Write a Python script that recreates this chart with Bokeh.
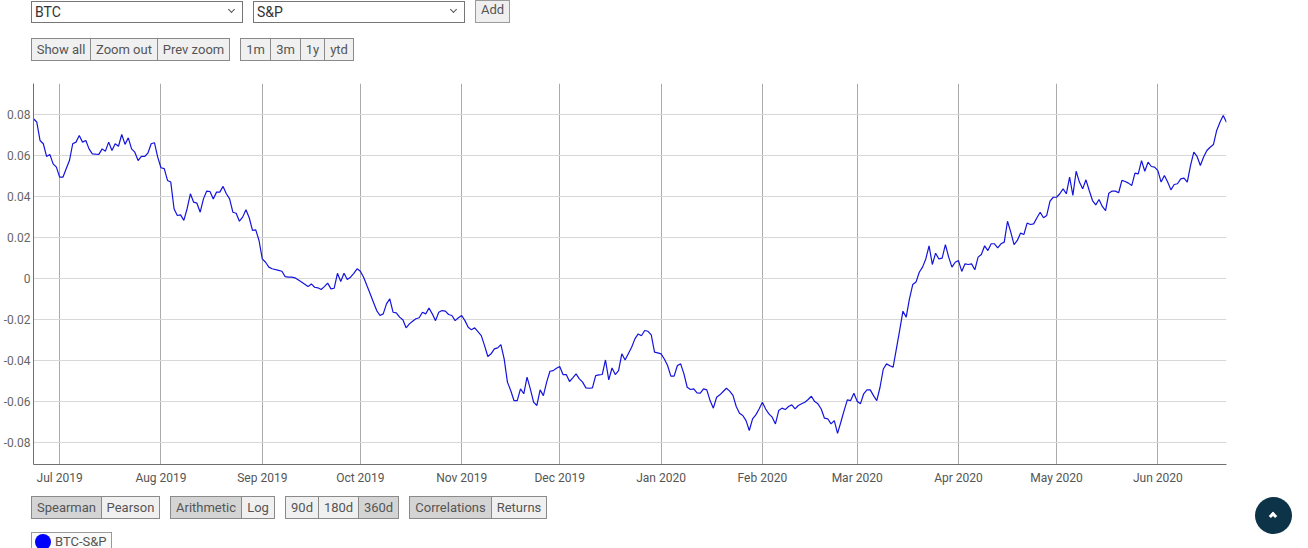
import pandas as pd
from bokeh.plotting import figure
from bokeh.models import Range1d, FixedTicker, Div, ColumnDataSource, DatetimeTickFormatter
from bokeh.layouts import column
from bokeh.embed import file_html
from bokeh.resources import INLINE

# ---------------- data ----------------
start_date = "2019-06-23"
end_date = "2020-06-22"
series_name = "BTC-S&P"

day_offsets = [
    0, 1, 2, 3, 4, 5, 6, 7, 8, 9, 10, 11, 12, 13, 14, 15, 16, 17, 18, 19,
    20, 21, 22, 23, 24, 25, 26, 27, 28, 29, 30, 31, 32, 33, 34, 35, 36, 37, 38, 39,
    40, 41, 42, 43, 44, 45, 46, 47, 48, 49, 50, 51, 52, 53, 54, 55, 56, 57, 58, 59,
    60, 61, 62, 63, 64, 65, 66, 67, 68, 69, 70, 71, 72, 73, 75, 76, 77, 78, 79, 80,
    82, 84, 85, 86, 87, 88, 89, 90, 91, 92, 93, 94, 95, 96, 97, 98, 99, 100, 101, 102,
    103, 104, 105, 106, 107, 108, 109, 110, 111, 112, 113, 114, 115, 116, 117, 118, 119, 120, 121, 122,
    123, 124, 125, 126, 127, 128, 129, 130, 131, 132, 133, 134, 135, 137, 138, 139, 140, 141, 142, 143,
    144, 145, 146, 147, 148, 149, 150, 151, 152, 153, 154, 155, 156, 157, 158, 159, 160, 161, 162, 163,
    164, 165, 166, 167, 168, 169, 170, 171, 172, 173, 174, 175, 176, 177, 178, 179, 180, 181, 183, 184,
    185, 186, 187, 188, 189, 190, 191, 192, 193, 194, 195, 196, 197, 198, 199, 200, 201, 202, 203, 204,
    205, 206, 207, 208, 209, 210, 211, 212, 213, 214, 215, 216, 217, 218, 219, 220, 221, 222, 223, 224,
    225, 226, 227, 228, 229, 230, 231, 232, 233, 234, 235, 236, 237, 238, 239, 240, 241, 242, 243, 244,
    245, 246, 247, 248, 249, 250, 251, 252, 253, 254, 255, 256, 257, 258, 259, 260, 261, 262, 263, 264,
    265, 266, 267, 268, 269, 270, 271, 272, 273, 274, 275, 276, 277, 278, 279, 280, 281, 282, 283, 284,
    285, 286, 287, 288, 289, 290, 291, 292, 293, 294, 295, 296, 297, 298, 299, 300, 301, 302, 303, 304,
    305, 306, 307, 308, 309, 310, 311, 312, 313, 314, 315, 316, 317, 318, 319, 320, 321, 322, 323, 324,
    325, 326, 327, 328, 329, 330, 331, 332, 333, 334, 335, 336, 337, 338, 339, 340, 341, 342, 343, 344,
    345, 346, 347, 348, 349, 350, 351, 352, 353, 354, 355, 356, 357, 358, 359, 360, 361, 362, 363, 364,
    365,
]

corr_values = [
    0.0781, 0.0765, 0.0675, 0.0659, 0.0597, 0.0607, 0.0561, 0.0545, 0.0496, 0.0496,
    0.0537, 0.0577, 0.0659, 0.0667, 0.0699, 0.0667, 0.0675, 0.0634, 0.0610, 0.0608,
    0.0607, 0.0634, 0.0623, 0.0667, 0.0626, 0.0659, 0.0647, 0.0704, 0.0656, 0.0688,
    0.0634, 0.0618, 0.0577, 0.0597, 0.0597, 0.0613, 0.0659, 0.0664, 0.0594, 0.0542,
    0.0538, 0.0480, 0.0472, 0.0342, 0.0309, 0.0312, 0.0285, 0.0342, 0.0415, 0.0374,
    0.0369, 0.0325, 0.0390, 0.0428, 0.0426, 0.0390, 0.0423, 0.0423, 0.0451, 0.0415,
    0.0390, 0.0325, 0.0320, 0.0281, 0.0301, 0.0337, 0.0298, 0.0236, 0.0239, 0.0187,
    0.0097, 0.0081, 0.0057, 0.0049, 0.0041, 0.0037, 0.0011, 0.0008, 0.0008, 0.0005,
    -0.0016, -0.0038, -0.0025, -0.0041, -0.0044, -0.0052, -0.0038, -0.0021, -0.0049, -0.0046,
    0.0027, -0.0013, 0.0027, -0.0003, 0.0008, 0.0027, 0.0049, 0.0037, 0.0008, -0.0033,
    -0.0073, -0.0114, -0.0155, -0.0179, -0.0171, -0.0122, -0.0098, -0.0163, -0.0166, -0.0187,
    -0.0200, -0.0239, -0.0220, -0.0207, -0.0195, -0.0190, -0.0163, -0.0171, -0.0142, -0.0171,
    -0.0204, -0.0163, -0.0155, -0.0158, -0.0174, -0.0179, -0.0204, -0.0190, -0.0179, -0.0204,
    -0.0236, -0.0249, -0.0239, -0.0277, -0.0326, -0.0379, -0.0366, -0.0342, -0.0337, -0.0321,
    -0.0391, -0.0504, -0.0545, -0.0594, -0.0594, -0.0537, -0.0561, -0.0480, -0.0537, -0.0602,
    -0.0618, -0.0542, -0.0570, -0.0504, -0.0451, -0.0448, -0.0436, -0.0428, -0.0467, -0.0467,
    -0.0501, -0.0483, -0.0464, -0.0488, -0.0504, -0.0532, -0.0534, -0.0532, -0.0472, -0.0469,
    -0.0467, -0.0396, -0.0493, -0.0435, -0.0467, -0.0448, -0.0366, -0.0396, -0.0334, -0.0293,
    -0.0269, -0.0278, -0.0252, -0.0256, -0.0274, -0.0358, -0.0361, -0.0366, -0.0391, -0.0423,
    -0.0475, -0.0475, -0.0423, -0.0415, -0.0464, -0.0529, -0.0540, -0.0537, -0.0557, -0.0558,
    -0.0537, -0.0542, -0.0594, -0.0631, -0.0578, -0.0566, -0.0550, -0.0534, -0.0548, -0.0569,
    -0.0623, -0.0656, -0.0667, -0.0692, -0.0740, -0.0683, -0.0664, -0.0635, -0.0602, -0.0635,
    -0.0659, -0.0675, -0.0708, -0.0643, -0.0631, -0.0638, -0.0623, -0.0615, -0.0635, -0.0618,
    -0.0610, -0.0602, -0.0589, -0.0573, -0.0599, -0.0610, -0.0635, -0.0680, -0.0683, -0.0708,
    -0.0692, -0.0754, -0.0700, -0.0643, -0.0591, -0.0594, -0.0558, -0.0597, -0.0610, -0.0561,
    -0.0542, -0.0542, -0.0570, -0.0594, -0.0529, -0.0440, -0.0415, -0.0424, -0.0431, -0.0342,
    -0.0252, -0.0158, -0.0187, -0.0098, -0.0028, -0.0016, 0.0032, 0.0057, 0.0097, 0.0161,
    0.0070, 0.0125, 0.0097, 0.0101, 0.0167, 0.0106, 0.0057, 0.0081, 0.0089, 0.0036,
    0.0073, 0.0070, 0.0073, 0.0044, 0.0106, 0.0119, 0.0161, 0.0138, 0.0171, 0.0171,
    0.0151, 0.0171, 0.0179, 0.0281, 0.0228, 0.0167, 0.0187, 0.0223, 0.0216, 0.0272,
    0.0265, 0.0268, 0.0298, 0.0325, 0.0298, 0.0309, 0.0379, 0.0398, 0.0398, 0.0415,
    0.0439, 0.0415, 0.0496, 0.0407, 0.0525, 0.0472, 0.0439, 0.0483, 0.0431, 0.0382,
    0.0361, 0.0387, 0.0353, 0.0333, 0.0418, 0.0428, 0.0428, 0.0420, 0.0480, 0.0475,
    0.0467, 0.0455, 0.0516, 0.0512, 0.0577, 0.0525, 0.0569, 0.0548, 0.0545, 0.0528,
    0.0472, 0.0504, 0.0472, 0.0434, 0.0460, 0.0464, 0.0488, 0.0491, 0.0472, 0.0553,
    0.0618, 0.0597, 0.0553, 0.0594, 0.0626, 0.0642, 0.0655, 0.0724, 0.0764, 0.0797,
    0.0764,
]

month_ticks = ["2019-07-01", "2019-08-01", "2019-09-01", "2019-10-01", "2019-11-01", "2019-12-01",
               "2020-01-01", "2020-02-01", "2020-03-01", "2020-04-01", "2020-05-01", "2020-06-01"]
month_labels = ["Jul 2019", "Aug 2019", "Sep 2019", "Oct 2019", "Nov 2019", "Dec 2019",
                "Jan 2020", "Feb 2020", "Mar 2020", "Apr 2020", "May 2020", "Jun 2020"]
y_ticks = [-0.08, -0.06, -0.04, -0.02, 0, 0.02, 0.04, 0.06, 0.08]
y_labels = ["-0.08", "-0.06", "-0.04", "-0.02", "0", "0.02", "0.04", "0.06", "0.08"]

pair_options = ["BTC", "S&P"]
top_group_a = ["Show all", "Zoom out", "Prev zoom"]
top_group_b = ["1m", "3m", "1y", "ytd"]
bottom_groups = [["Spearman", "Pearson"], ["Arithmetic", "Log"], ["90d", "180d", "360d"], ["Correlations", "Returns"]]
bottom_active = ["Spearman", "Arithmetic", "360d", "Correlations"]

# ---------------- chart ----------------
FONT = "Roboto"
W = 1308

dates = pd.Timestamp(start_date) + pd.to_timedelta(day_offsets, unit="D")
src = ColumnDataSource(dict(date=dates, corr=corr_values))

p = figure(width=W, height=420, x_axis_type="datetime",
           x_range=Range1d(pd.Timestamp(start_date), pd.Timestamp(end_date)),
           y_range=Range1d(-0.0906, 0.0953),
           output_backend="svg", toolbar_location=None, margin=(0, 0, 0, 0),
           min_border_left=32, min_border_right=82, min_border_top=13, min_border_bottom=26)
p.line("date", "corr", source=src, color="#1414dc", line_width=1.2)

tick_ms = [int(pd.Timestamp(t).value // 10**6) for t in month_ticks]
p.xaxis.ticker = FixedTicker(ticks=tick_ms)
p.xaxis.formatter = DatetimeTickFormatter(months="%b %Y", days="%b %Y")
p.xaxis.major_label_overrides = {ms: lab for ms, lab in zip(tick_ms, month_labels)}
p.yaxis.ticker = FixedTicker(ticks=y_ticks)
p.yaxis.major_label_overrides = {v: lab for v, lab in zip(y_ticks, y_labels)}

for ax in (p.xaxis[0], p.yaxis[0]):
    ax.axis_line_color = "#707070"
    ax.axis_line_width = 1
    ax.major_tick_line_color = None
    ax.minor_tick_line_color = None
    ax.major_tick_out = 0
    ax.major_tick_in = 0
    ax.minor_tick_out = 0
    ax.minor_tick_in = 0
    ax.major_label_text_font = FONT
    ax.major_label_text_font_size = "12px"
p.xaxis.major_label_text_color = "#555555"
p.yaxis.major_label_text_color = "#666666"
p.xaxis.major_label_standoff = 6
p.yaxis.major_label_standoff = 3

p.xgrid.grid_line_color = "#ababab"
p.ygrid.grid_line_color = "#d8d8d8"
p.outline_line_color = None
p.background_fill_color = "white"
p.border_fill_color = "white"

# ---------------- HTML controls ----------------
def seg_html(label, left, right, top, height, active=False, fs=13):
    bg = "#d4d4d4" if active else "#f0f0f0"
    return (f'<div style="position:absolute;left:{left}px;top:{top}px;width:{right - left + 1}px;'
            f'height:{height}px;box-sizing:border-box;background:{bg};border:1px solid #8a8a8a;'
            f'font-family:{FONT};font-size:{fs}px;color:#555;text-align:center;'
            f'line-height:{height - 2}px;white-space:nowrap;">{label}</div>')


def group_html(labels, edges, top, height=23, active=()):
    return "".join(seg_html(l, edges[i], edges[i + 1], top, height, l in active)
                   for i, l in enumerate(labels))


def select_html(label, left, width, top, height):
    chevron = ('<span style="position:absolute;right:8px;top:5px;width:5px;height:5px;'
               'border-right:1.6px solid #555;border-bottom:1.6px solid #555;transform:rotate(45deg);"></span>')
    return (f'<div style="position:absolute;left:{left}px;top:{top}px;width:{width}px;height:{height}px;'
            f'box-sizing:border-box;background:#fff;border:1px solid #767676;font-family:{FONT};'
            f'font-size:14px;color:#333;line-height:{height - 2}px;padding-left:3px;">{label}{chevron}</div>')


top_html = (
    f'<div style="position:relative;width:{W}px;height:70px;background:#fff;">'
    + select_html(pair_options[0], 31, 212, 1, 22)
    + select_html(pair_options[1], 253, 212, 1, 22)
    + '<div style="position:absolute;left:475px;top:0px;width:35px;height:23px;box-sizing:border-box;'
      f'background:#efefef;border:1px solid #9a9a9a;font-family:{FONT};font-size:13px;color:#555;'
      'text-align:center;line-height:17px;">Add</div>'
    + group_html(top_group_a, [31, 90, 157, 229], 38)
    + group_html(top_group_b, [240, 270, 300, 324, 353], 38)
    + '</div>'
)

bottom_edges = [[31, 101, 159], [170, 241, 274], [285, 318, 358, 398], [409, 491, 546]]
bottom_inner = "".join(group_html(g, e, 6, 23, bottom_active) for g, e in zip(bottom_groups, bottom_edges))
legend_html = (
    '<div style="position:absolute;left:31px;top:42px;width:81px;height:22px;box-sizing:border-box;'
    'background:#fafafa;border:1px solid #9a9a9a;">'
    '<span style="position:absolute;left:3px;top:1px;width:16px;height:16px;border-radius:50%;'
    'background:#0000ff;"></span>'
    f'<span style="position:absolute;left:23px;top:1px;font-family:{FONT};font-size:13px;color:#555;'
    f'line-height:16px;">{series_name}</span></div>'
)
scroll_html = (
    '<div style="position:absolute;left:1255px;top:7px;width:37px;height:37px;border-radius:50%;'
    'background:#0d3349;">'
    '<span style="position:absolute;left:15px;top:16px;width:6px;height:6px;border-left:3px solid #fff;'
    'border-top:3px solid #fff;transform:rotate(45deg);"></span></div>'
)
bottom_html = (
    f'<div style="position:relative;width:{W}px;height:58px;overflow:hidden;background:#fff;">'
    + bottom_inner + legend_html + scroll_html + '</div>'
)

top_div = Div(text=top_html, width=W, height=70, margin=(0, 0, 0, 0))
bottom_div = Div(text=bottom_html, width=W, height=58, margin=(0, 0, 0, 0))

layout = column(top_div, p, bottom_div, width=W, height=548, spacing=0)

open("out.html", "w").write(file_html(layout, INLINE))
